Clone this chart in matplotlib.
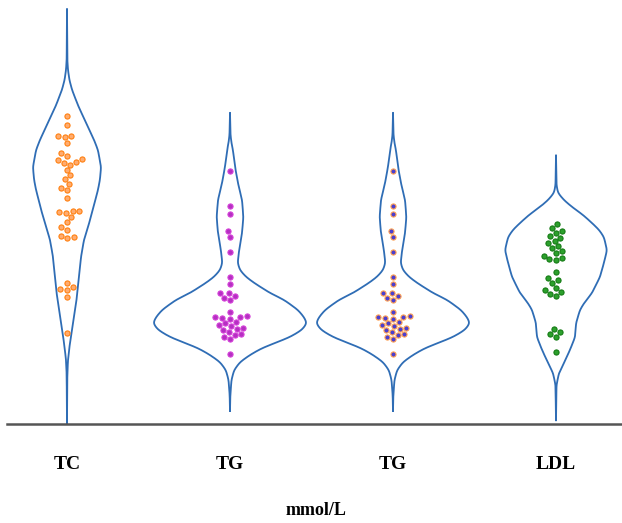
import numpy as np
import matplotlib
matplotlib.use("Agg")
import matplotlib.pyplot as plt
import seaborn as sns

# ---------------- data ----------------
categories = ["TC", "TG", "TG", "LDL"]
group_keys = ["g0", "g1", "g2", "g3"]

tc_values = [7.26, 7.05, 6.79, 6.79, 6.77, 6.63, 6.39, 6.32, 6.25, 6.23, 6.18, 6.16,
             6.11, 5.99, 5.87, 5.78, 5.66, 5.57, 5.52, 5.33, 5.02, 5.02, 5.00, 4.98,
             4.88, 4.76, 4.65, 4.58, 4.43, 4.41, 4.39, 3.33, 3.23, 3.18, 3.16, 3.00, 2.15]

tg_values = [5.97, 5.14, 4.95, 4.55, 4.41, 4.06, 3.47, 3.30, 3.09, 3.09, 3.02, 2.97,
             2.92, 2.64, 2.55, 2.52, 2.52, 2.50, 2.48, 2.41, 2.38, 2.33, 2.31, 2.26,
             2.24, 2.22, 2.17, 2.12, 2.10, 2.05, 2.00, 1.65]

tg2_values = [5.97, 5.14, 4.95, 4.55, 4.41, 4.06, 3.47, 3.30, 3.09, 3.09, 3.02, 2.97,
              2.92, 2.64, 2.55, 2.52, 2.52, 2.50, 2.48, 2.41, 2.38, 2.33, 2.31, 2.26,
              2.24, 2.22, 2.17, 2.12, 2.10, 2.05, 2.00, 1.65]

ldl_values = [4.72, 4.62, 4.55, 4.50, 4.43, 4.39, 4.32, 4.27, 4.20, 4.15, 4.08, 4.03,
              3.96, 3.92, 3.89, 3.87, 3.58, 3.44, 3.40, 3.33, 3.21, 3.16, 3.11, 3.07,
              3.02, 2.24, 2.17, 2.12, 2.05, 1.70]

# violin outlines: value levels and density half-widths (category units)
tc_levels = [9.79, 8.59, 8.35, 8.11, 7.88, 7.52, 7.10, 6.70, 6.46, 6.06, 5.76, 5.52,
             5.17, 4.88, 4.34, 3.94, 3.47, 3.00, 2.38, 1.91, 1.51, 1.16, 0.00]
tc_density = [0.0, 0.002, 0.006, 0.015, 0.031, 0.067, 0.117, 0.166, 0.190, 0.209, 0.202,
              0.190, 0.166, 0.147, 0.104, 0.086, 0.074, 0.061, 0.037, 0.018, 0.006, 0.002, 0.0]

tg_levels = [7.34, 6.82, 6.63, 6.46, 6.06, 5.68, 5.28, 4.88, 4.51, 4.10, 3.80, 3.63,
             3.47, 3.33, 3.09, 2.93, 2.69, 2.52, 2.38, 2.22, 2.05, 1.91, 1.79, 1.63,
             1.46, 1.27, 1.04, 0.68, 0.31]
tg_density = [0.0, 0.003, 0.009, 0.018, 0.031, 0.049, 0.074, 0.082, 0.074, 0.056, 0.047,
              0.061, 0.098, 0.147, 0.245, 0.331, 0.417, 0.454, 0.472, 0.442, 0.368, 0.276,
              0.196, 0.123, 0.061, 0.025, 0.009, 0.002, 0.0]

tg2_levels = tg_levels
tg2_density = tg_density

ldl_levels = [6.34, 5.64, 5.45, 5.28, 5.12, 4.93, 4.74, 4.58, 4.41, 4.10, 3.80, 3.47,
              3.09, 2.85, 2.69, 2.38, 2.05, 1.75, 1.44, 1.20, 0.92, 0.09]
ldl_density = [0.0, 0.003, 0.012, 0.049, 0.098, 0.166, 0.221, 0.264, 0.294, 0.313, 0.294,
               0.270, 0.221, 0.172, 0.147, 0.123, 0.117, 0.086, 0.049, 0.018, 0.003, 0.0]

# ---------------- style ----------------
violin_color = "#2f6db5"
face_colors = ["#ffac70", "#b530c2", "#4a3fd0", "#2ca02c"]
edge_colors = ["#ff7f0e", "#d43ed8", "#ffa050", "#137a13"]
label_font = "Liberation Serif"


def smooth_outline(levels, dens, n=1200, sigma=0.05):
    lv = np.asarray(levels, float)
    dv = np.asarray(dens, float)
    order = np.argsort(lv)
    lv, dv = lv[order], dv[order]
    grid = np.linspace(lv[0], lv[-1], n)
    w = np.interp(grid, lv, dv)
    step = grid[1] - grid[0]
    s = max(sigma / step, 0.5)
    half = int(4 * s)
    k = np.exp(-0.5 * (np.arange(-half, half + 1) / s) ** 2)
    k /= k.sum()
    wp = np.concatenate([np.full(half, w[0]), w, np.full(half, w[-1])])
    ws = np.convolve(wp, k, mode="valid")
    return grid, ws


fig = plt.figure(figsize=(6.22, 5.23), dpi=100)
ax = fig.add_axes([7 / 622, 99 / 523, 615 / 622, 424 / 523])

profiles = [(tc_levels, tc_density), (tg_levels, tg_density),
            (tg2_levels, tg2_density), (ldl_levels, ldl_density)]
for i, (lv, dv) in enumerate(profiles):
    y, w = smooth_outline(lv, dv)
    xs = np.concatenate([i - w, (i + w)[::-1]])
    ys = np.concatenate([y, y[::-1]])
    ax.plot(xs, ys, color=violin_color, lw=1.3, solid_joinstyle="round", zorder=2)

all_values = [tc_values, tg_values, tg2_values, ldl_values]
for i, vals in enumerate(all_values):
    sns.swarmplot(x=[group_keys[i]] * len(vals), y=vals, order=group_keys,
                  color=face_colors[i], edgecolor=edge_colors[i], linewidth=0.8,
                  size=3.7, ax=ax, zorder=3, warn_thresh=1.0)

ax.set_xlim(-60 / 163, 3 + 66 / 163)
ax.set_ylim(0, 10)

for sp in ["top", "right", "left"]:
    ax.spines[sp].set_visible(False)
ax.spines["bottom"].set_color("#555555")
ax.spines["bottom"].set_linewidth(1.8)

ax.set_yticks([])
ax.set_xticks(range(len(categories)))
ax.set_xticklabels(categories, fontfamily=label_font, fontweight="bold", fontsize=14)
ax.tick_params(axis="x", length=0, pad=23)
ax.set_ylabel("")
ax.set_xlabel("mmol/L", fontfamily=label_font, fontweight="bold", fontsize=13)
ax.xaxis.set_label_coords(0.502, -0.184)

fig.savefig("out.png", dpi=100)
